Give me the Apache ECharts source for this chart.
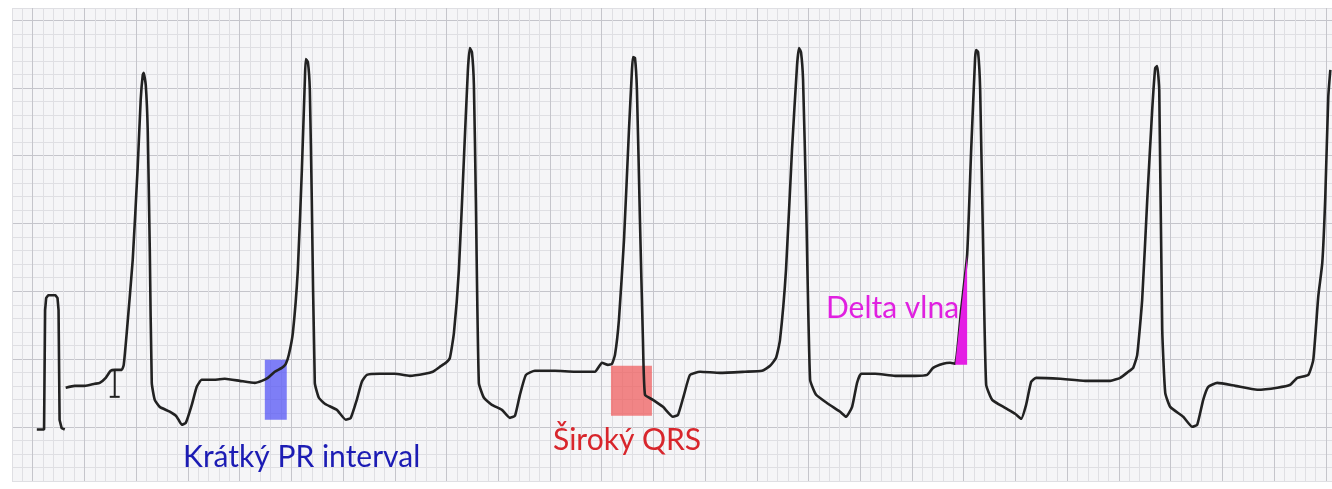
<!DOCTYPE html>
<html>
<head>
<meta charset="utf-8">
<script src="https://cdn.jsdelivr.net/npm/echarts@6/dist/echarts.min.js"></script>
<style>
  html, body { margin: 0; padding: 0; background: #ffffff; }
  #chart { width: 1332px; height: 489px; }
</style>
</head>
<body>
<div id="chart"></div>
<script>
// Units: time in small boxes (1 box = 40 ms at 25 mm/s),
// amplitude in small boxes (1 box = 0.1 mV at 10 mm/mV).

// 1 mV calibration pulse
const calibration = [
  [0.4, -0.2], [1.1, -0.2], [1.2, 8.6], [1.3, 9.5], [1.5, 9.7], [2.2, 9.7],
  [2.4, 9.5], [2.5, 8.6], [2.6, 0.5], [2.8, -0.1], [3.1, -0.2]
];

// Rhythm strip with pre-excitation (WPW pattern)
const trace = [
  [3.19, 2.88], [4.06, 3.02], [5.03, 3.02], [5.99, 3.17], [6.48, 3.24], [7.06, 3.61],
  [7.54, 4.13], [7.93, 4.20], [8.61, 4.20], [8.80, 4.57], [9.09, 6.93], [9.67, 12.32],
  [10.15, 19.17], [10.44, 24.12], [10.64, 25.96], [10.73, 26.11], [10.93, 25.22],
  [11.12, 21.90], [11.32, 13.05], [11.51, 3.24], [11.80, 1.99], [12.28, 1.47],
  [13.25, 1.11], [13.93, 0.74], [14.41, 0.15], [14.80, 0.29], [15.38, 1.62],
  [15.86, 2.95], [16.34, 3.47], [17.60, 3.47], [18.57, 3.54], [20.02, 3.39],
  [21.47, 3.24], [22.15, 3.39], [22.73, 3.61], [23.40, 4.06], [24.08, 4.35],
  [24.47, 4.65], [24.76, 5.31], [25.15, 6.93], [25.63, 11.58], [26.02, 18.95],
  [26.31, 25.59], [26.40, 27.14], [26.60, 26.92], [26.79, 24.85], [26.98, 16.74],
  [27.27, 3.24], [27.66, 2.14], [28.24, 1.70], [29.40, 1.25], [30.27, 0.52],
  [30.75, 0.66], [31.33, 1.99], [31.82, 3.32], [32.30, 3.83], [33.56, 3.91],
  [35.01, 3.91], [36.46, 3.76], [37.91, 3.91], [38.68, 4.06], [39.36, 4.42],
  [39.94, 4.72], [40.33, 5.09], [40.72, 6.93], [41.20, 11.58], [41.68, 19.69],
  [42.07, 26.33], [42.26, 27.95], [42.46, 27.65], [42.65, 25.22], [42.84, 16.74],
  [43.13, 3.24], [43.62, 2.14], [44.39, 1.62], [45.36, 1.25], [46.13, 0.66],
  [46.62, 0.81], [47.10, 2.36], [47.68, 3.83], [48.55, 4.13], [50.48, 4.13],
  [52.42, 4.06], [54.35, 4.06], [55.03, 4.72], [55.61, 4.57], [56.00, 4.65],
  [56.29, 5.31], [56.67, 7.89], [57.16, 13.79], [57.64, 21.90], [57.93, 26.33],
  [58.03, 27.29], [58.22, 27.21], [58.41, 24.85], [58.70, 15.27], [58.99, 6.42],
  [59.19, 2.36], [59.96, 1.99], [60.93, 1.47], [61.89, 0.74], [62.38, 0.88],
  [62.96, 2.36], [63.54, 3.83], [64.51, 4.06], [66.44, 3.98], [68.86, 4.06],
  [70.50, 4.13], [71.28, 4.50], [71.86, 5.09], [72.24, 6.42], [72.82, 11.58],
  [73.40, 20.43], [73.89, 26.70], [74.08, 27.95], [74.27, 27.65], [74.47, 25.59],
  [74.76, 16.74], [75.15, 3.47], [75.73, 2.36], [76.89, 1.70], [78.05, 1.11],
  [78.63, 0.74], [79.21, 1.47], [79.69, 3.24], [80.08, 3.91], [81.43, 3.91],
  [83.37, 3.76], [85.30, 3.76], [86.46, 3.83], [87.04, 4.35], [88.01, 4.65],
  [88.68, 4.72], [89.17, 4.65], [89.75, 8.63], [90.33, 12.68], [90.72, 20.43],
  [91.10, 27.21], [91.20, 27.80], [91.39, 27.65], [91.59, 24.85], [91.88, 13.05],
  [92.17, 3.10], [92.75, 1.99], [94.00, 1.40], [94.97, 0.96], [95.55, 0.59],
  [96.03, 1.62], [96.52, 3.32], [97.00, 3.61], [99.32, 3.54], [101.74, 3.39],
  [104.16, 3.39], [105.13, 3.61], [105.90, 4.06], [106.38, 4.35], [106.77, 5.31],
  [107.25, 9.37], [107.74, 16.74], [108.22, 23.38], [108.51, 26.47], [108.70, 26.62],
  [108.90, 24.85], [109.19, 7.15], [109.48, 2.51], [109.96, 1.47], [111.22, 0.74],
  [112.09, 0.00], [112.57, 0.15], [113.15, 1.99], [113.64, 2.95], [114.51, 3.24],
  [116.25, 3.02], [118.38, 2.73], [120.31, 2.88], [121.57, 3.10], [122.24, 3.61],
  [123.31, 3.83], [123.79, 4.94], [124.27, 9.59], [124.66, 12.09], [124.95, 16.96],
  [125.24, 24.34], [125.44, 26.33]
];

// Lead "I" marker on the first complex
const leadStem = [[7.93, 4.20], [7.93, 2.21]];
const leadFoot = [[7.45, 2.21], [8.41, 2.21]];

// Highlighted regions: [corner, opposite corner]
const prBox = [[22.44, 0.52], [24.56, 4.94]];
const qrsBox = [[55.90, 0.81], [59.86, 4.50]];
// Delta wave: slurred upstroke of the sixth complex
const deltaWave = [[89.17, 4.57], [90.33, 12.68], [90.33, 4.57]];

const labels = ['Krátký PR interval', 'Široký QRS', 'Delta vlna'];

const chart = echarts.init(document.getElementById('chart'), null, { renderer: 'canvas' });

const MINOR = '#dfdfe3';
const MAJOR = '#c5c5cb';
const INK = '#222222';

const option = {
  backgroundColor: '#ffffff',
  animation: false,
  grid: {
    left: 12, right: 0, top: 8, height: 473,
    show: true, backgroundColor: '#f5f5f7', borderWidth: 0
  },
  xAxis: {
    type: 'value', min: -2, max: 125.6, interval: 1,
    axisLine: { show: false }, axisTick: { show: false }, axisLabel: { show: false },
    splitLine: {
      show: true, showMinLine: true, showMaxLine: true,
      lineStyle: { color: [MINOR, MINOR, MAJOR, MINOR, MINOR], width: 1 }
    }
  },
  yAxis: {
    type: 'value', min: -4, max: 30.9, interval: 1,
    axisLine: { show: false }, axisTick: { show: false }, axisLabel: { show: false },
    splitLine: {
      show: true, showMinLine: true, showMaxLine: true,
      lineStyle: { color: [MINOR, MINOR, MINOR, MINOR, MAJOR], width: 1 }
    }
  },
  series: [
    {
      type: 'line', data: calibration, showSymbol: false, silent: true,
      lineStyle: { color: INK, width: 2.6 }, z: 3
    },
    {
      type: 'line', data: trace, showSymbol: false, silent: true, smooth: 0.15,
      lineStyle: { color: INK, width: 2.6 }, z: 3,
      markArea: {
        silent: true,
        data: [
          [{ coord: prBox[0], itemStyle: { color: 'rgba(80,80,245,0.72)' } }, { coord: prBox[1] }],
          [{ coord: qrsBox[0], itemStyle: { color: 'rgba(240,90,90,0.72)' } }, { coord: qrsBox[1] }]
        ]
      }
    },
    {
      type: 'line', data: leadStem, showSymbol: false, silent: true,
      lineStyle: { color: INK, width: 2 }, z: 3
    },
    {
      type: 'line', data: leadFoot, showSymbol: false, silent: true,
      lineStyle: { color: INK, width: 2 }, z: 3
    },
    {
      type: 'custom', silent: true, z: 4,
      data: [deltaWave[0]],
      renderItem: function (params, api) {
        const pts = deltaWave.map(function (p) { return api.coord(p); });
        return { type: 'polygon', shape: { points: pts }, style: { fill: '#e41ee4' } };
      }
    }
  ],
  graphic: [
    {
      type: 'text', x: 183, y: 457, z: 10,
      style: { text: labels[0], fill: '#1c1cb4', font: '30px Lato', align: 'left', verticalAlign: 'middle' }
    },
    {
      type: 'text', x: 553, y: 440, z: 10,
      style: { text: labels[1], fill: '#d8262c', font: '30px Lato', align: 'left', verticalAlign: 'middle' }
    },
    {
      type: 'text', x: 826, y: 308, z: 10,
      style: { text: labels[2], fill: '#e020e0', font: '30px Lato', align: 'left', verticalAlign: 'middle' }
    }
  ]
};

chart.setOption(option);
</script>
</body>
</html>
